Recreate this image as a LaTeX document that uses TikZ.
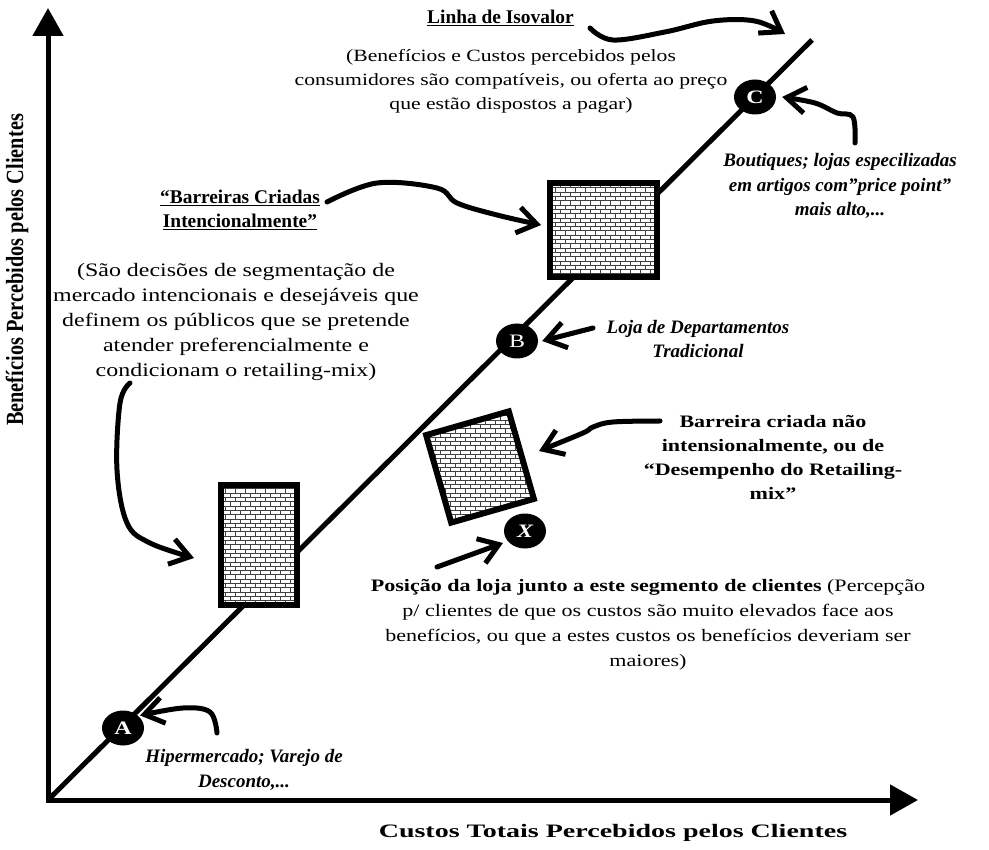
\documentclass[tikz,border=0pt]{standalone}
\usepackage{fontspec}
\setmainfont{Liberation Serif}[FakeStretch=1.26]
\newfontfamily\narrowserif{Liberation Serif}
\usepackage{graphicx}
\usetikzlibrary{shapes.geometric, arrows.meta, patterns}

\pgfdeclarepatternformonly{brickwall}{\pgfqpoint{-1pt}{-1pt}}{\pgfqpoint{11pt}{10pt}}{\pgfqpoint{10pt}{8.6pt}}{
  \pgfsetlinewidth{0.6pt}
  \pgfpathmoveto{\pgfqpoint{0pt}{0pt}}\pgfpathlineto{\pgfqpoint{10pt}{0pt}}
  \pgfpathmoveto{\pgfqpoint{0pt}{4.3pt}}\pgfpathlineto{\pgfqpoint{10pt}{4.3pt}}
  \pgfpathmoveto{\pgfqpoint{0pt}{0pt}}\pgfpathlineto{\pgfqpoint{0pt}{4.3pt}}
  \pgfpathmoveto{\pgfqpoint{5pt}{4.3pt}}\pgfpathlineto{\pgfqpoint{5pt}{8.6pt}}
  \pgfusepath{stroke}}

\tikzstyle{note} = [align=center, inner sep=1pt, font=\fontsize{19}{25}\selectfont]
\tikzstyle{boldnote} = [note, font=\fontsize{17.5}{24}\selectfont\bfseries]
\tikzstyle{itnote} = [note, font=\narrowserif\fontsize{19}{24.5}\selectfont\bfseries\itshape]
\tikzstyle{titlenote} = [note, font=\narrowserif\fontsize{19.4}{24}\selectfont\bfseries]
\tikzstyle{dot} = [ellipse, fill=black, minimum width=42pt, minimum height=35pt, inner sep=0pt, text=white, font=\fontsize{19}{24}\selectfont]
\tikzstyle{brickbox} = [rectangle, draw=black, line width=6pt, inner sep=0pt, preaction={fill=white}, pattern=brickwall, pattern color=black!75]
\tikzstyle{axis} = [line width=5pt, -{Triangle[length=28pt,width=30pt]}]
\tikzstyle{handarrow} = [line width=5pt, line cap=round, line join=round, -{Straight Barb[length=19pt,width=26pt]}]

\begin{document}
\begin{tikzpicture}[x=1pt, y=-1pt]
    \useasboundingbox (0,0) rectangle (989,850);

    %Axes
    \coordinate (origin) at (48,800);
    \coordinate (yTop) at (48,8);
    \coordinate (xEnd) at (918,800);
    \coordinate (isoEnd) at (812,40);
    \draw [axis] ([yshift=-2.5pt]origin) -- (yTop);
    \draw [axis] ([xshift=-2.5pt]origin) -- (xEnd);
    \draw [line width=5pt] (origin) -- (isoEnd);

    \node (yLabel) [rotate=90] at (17,270) {\scalebox{1.07}[1.3]{\narrowserif\fontsize{19}{24}\selectfont\bfseries Benefícios Percebidos pelos Clientes}};
    \node (xLabel) [boldnote] at (613,833) {\scalebox{1.17}[1]{\fontsize{19}{24}\selectfont Custos Totais Percebidos pelos Clientes}};

    %Barriers
    \node (sqHigh) [brickbox, minimum width=107pt, minimum height=94pt] at (603.5,230) {};
    \node (sqLow) [brickbox, minimum width=76pt, minimum height=120pt] at (259,545) {};
    \node (sqOff) [brickbox, rotate=16, minimum width=86pt, minimum height=91pt] at (480,467) {};

    %Store points
    \node (cA) [dot, font=\fontsize{19}{24}\selectfont\bfseries] at (123,728) {A};
    \node (cB) [dot] at (517,341) {B};
    \node (cC) [dot, font=\fontsize{19}{24}\selectfont\bfseries] at (755,97) {C};
    \node (cX) [dot, font=\fontsize{19}{24}\selectfont\bfseries\itshape] at (525,531) {X};

    %Texts
    \node (isoTitle) [titlenote, anchor=east] at (575,18) {\underline{Linha de Isovalor}};
    \node (isoNote) [note, font=\fontsize{17.2}{24}\selectfont] at (511,81) {(Benefícios e Custos percebidos pelos\\consumidores são compatíveis, ou oferta ao preço\\que estão dispostos a pagar)};
    \node (barTitle) [titlenote] at (240,210) {\underline{“Barreiras Criadas}\\\underline{Intencionalmente”}};
    \node (barNote) [note] at (236,322) {(São decisões de segmentação de\\mercado intencionais e desejáveis que\\definem os públicos que se pretende\\atender preferencialmente e\\condicionam o retailing-mix)};
    \node (boutNote) [itnote] at (840,186) {Boutiques; lojas especilizadas\\em artigos com”price point”\\mais alto,...};
    \node (lojaNote) [itnote] at (698,339) {Loja de Departamentos\\Tradicional};
    \node (naoNote) [boldnote] at (773,457) {Barreira criada não\\intensionalmente, ou de\\“Desempenho do Retailing-\\mix”};
    \node (posNote) [note, font=\fontsize{17.5}{25}\selectfont] at (648,625) {\textbf{Posição da loja junto a este segmento de clientes} (Percepção\\p/ clientes de que os custos são muito elevados face aos\\benefícios, ou que a estes custos os benefícios deveriam ser\\maiores)};
    \node (hiperNote) [itnote] at (244,770) {Hipermercado; Varejo de\\Desconto,...};

    %Arrow ends
    \coordinate (isoTail) at (590,28);
    \coordinate (isoTip) at (785,34);
    \coordinate (barTail) at (327,202);
    \coordinate (barTip) at (541,225);
    \coordinate (leftTail) at (130,383);
    \coordinate (leftTip) at (194,558);
    \coordinate (boutTail) at (855,143);
    \coordinate (lojaTail) at (593,328);
    \coordinate (naoTail) at (660,421);
    \coordinate (naoTip) at (539,451);
    \coordinate (posTail) at (437,567);
    \coordinate (posTip) at (503,543);
    \coordinate (hiperTail) at (217,733);

    %Arrows
    \draw [handarrow] plot [smooth, tension=0.6] coordinates {(isoTail) (613,40) (665,32) (713,21) (755,21) (isoTip)};
    \draw [handarrow] plot [smooth, tension=0.6] coordinates {(barTail) (377,183) (437,188) (457,203) (497,215) (barTip)};
    \draw [handarrow] plot [smooth, tension=0.6] coordinates {(leftTail) (120,403) (117,470) (127,523) (150,543) (leftTip)};
    \draw [handarrow] plot [smooth, tension=0.6] coordinates {(boutTail) (853,117) (837,113) (815,103) ([xshift=6pt]cC.east)};
    \draw [handarrow] (lojaTail) -- ([xshift=4pt]cB.east);
    \draw [handarrow] plot [smooth, tension=0.6] coordinates {(hiperTail) (210,712) (183,708) ([xshift=2pt]cA.north east)};
    \draw [handarrow] plot [smooth, tension=0.6] coordinates {(naoTail) (613,422) (593,427) (583,433) (naoTip)};
    \draw [handarrow] (posTail) -- (posTip);

\end{tikzpicture}
\end{document}
